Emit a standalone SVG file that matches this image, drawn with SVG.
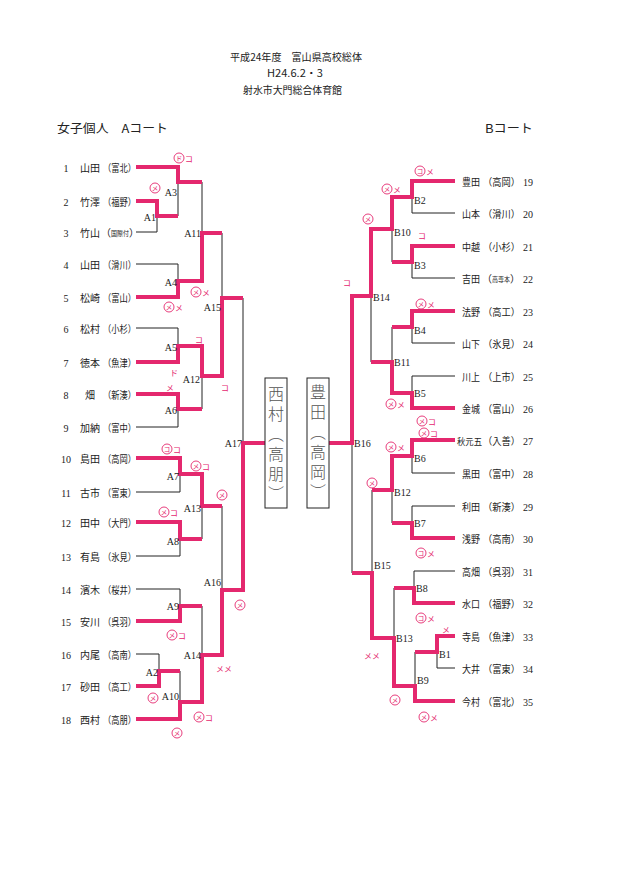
<svg xmlns="http://www.w3.org/2000/svg" width="621" height="875" viewBox="0 0 621 875">
<style>
.ln{stroke:#222;stroke-width:1;fill:none}
.pk{stroke:#e4286e;stroke-width:4;fill:none;stroke-linejoin:miter;stroke-linecap:butt}
.nm{font-family:"Noto Sans CJK JP","Noto Sans CJK SC",sans-serif;font-size:10px;fill:#222}
.nm3{font-family:"Noto Sans CJK JP","Noto Sans CJK SC",sans-serif;font-size:8.6px;fill:#222}
.sm{font-family:"Noto Sans CJK JP","Noto Sans CJK SC",sans-serif;font-size:6.5px;fill:#222}
.num{font-family:"Liberation Serif",serif;font-size:10px;fill:#222}
.lb{font-family:"Liberation Serif",serif;font-size:10px;fill:#222}
.hd{font-family:"Noto Sans CJK JP","Noto Sans CJK SC",sans-serif;font-size:10px;fill:#222}
.tt{font-family:"Noto Sans CJK JP","Noto Sans CJK SC",sans-serif;font-size:12px;fill:#222}
.an{font-family:"Noto Sans CJK JP","Noto Sans CJK SC",sans-serif;font-size:8px;fill:#e4286e}
.ai{font-family:"Noto Sans CJK JP","Noto Sans CJK SC",sans-serif;font-size:6.5px;fill:#e4286e;text-anchor:middle}
.ac{fill:none;stroke:#e4286e;stroke-width:0.9}
.hw{font-family:"Noto Sans CJK JP","Noto Sans CJK SC",sans-serif;font-size:16px;fill:#555;font-weight:300;writing-mode:vertical-rl;letter-spacing:4px}
.bx{fill:#fff;stroke:#222;stroke-width:1}
</style>
<rect width="621" height="875" fill="#fff"/>

<g id="header">
<text class="hd" x="230" y="61" textLength="132" lengthAdjust="spacingAndGlyphs">平成24年度　富山県高校総体</text>
<text class="hd" x="267" y="77" textLength="56" lengthAdjust="spacingAndGlyphs">H24.6.2・3</text>
<text class="hd" x="243" y="94" textLength="99" lengthAdjust="spacingAndGlyphs">射水市大門総合体育館</text>
<text class="tt" x="57" y="133" textLength="111" lengthAdjust="spacingAndGlyphs">女子個人　Aコート</text>
<text class="tt" x="485" y="133" textLength="48" lengthAdjust="spacingAndGlyphs">Bコート</text>
</g>

<g id="connectors">
<path class="ln" d="M136,167H178M136,201H157M136,232H157M136,264H178M136,297H178M136,328H178M136,362H178M136,394H178M136,427H178M136,458H180M136,492H180M136,522H180M136,556H180M136,589H180M136,621H180M136,654H159M136,686H159M136,719H180"/>
<path class="ln" d="M157,201V232M157,216H178 M178,167V216M178,182H202 M178,264V297M178,281H202 M202,182V281M202,233H222 M178,328V362M178,346H202 M178,394V427M178,409H202 M202,346V409M202,376H222 M222,233V376M222,298H243 M180,458V492M180,474H202 M180,522V556M180,539H202 M202,474V539M202,506H222 M180,589V621M180,606H202 M159,654V686M159,671H180 M180,671V719M180,702H202 M202,606V702M202,655H222 M222,506V655M222,590H243 M243,298V590M243,443H265"/>
<path class="ln" d="M455,181H412M455,213H412M455,246H412M455,278H412M455,311H412M455,343H412M455,376H412M455,408H412M455,440H412M455,473H412M455,506H412M455,538H412M455,571H414M455,603H414M455,636H437M455,668H437M455,701H415"/>
<path class="ln" d="M412,181V213M412,197H392 M412,246V278M412,262H392 M392,197V262M392,229H371 M412,311V343M412,327H392 M412,376V408M412,393H392 M392,327V393M392,362H371 M371,229V362M371,296H352 M412,440V473M412,456H392 M412,506V538M412,523H392 M392,456V523M392,490H372 M414,571V603M414,588H394 M437,636V668M437,652H415 M415,652V701M415,686H394 M394,588V686M394,638H372 M372,490V638M372,573H352 M352,296V573M352,443H329"/>
</g>

<g id="winner-paths">
<path class="pk" d="M136,167H178V182H202"/>
<path class="pk" d="M136,201H157V216H178"/>
<path class="pk" d="M136,297H178V281H202V233H222"/>
<path class="pk" d="M136,362H178V346H202V376H222V298H243"/>
<path class="pk" d="M136,394H178V409H202"/>
<path class="pk" d="M136,458H180V474H202V506H222"/>
<path class="pk" d="M136,522H180V539H202"/>
<path class="pk" d="M136,621H180V606H202"/>
<path class="pk" d="M136,686H159V671H180"/>
<path class="pk" d="M136,719H180V702H202V655H222V590H243V443H265"/>
<path class="pk" d="M455,181H412V197H392V229H371V296H352V443H329"/>
<path class="pk" d="M455,246H412V262H392"/>
<path class="pk" d="M455,311H412V327H392"/>
<path class="pk" d="M455,408H412V393H392V362H371"/>
<path class="pk" d="M455,440H412V456H392V490H372"/>
<path class="pk" d="M455,538H412V523H392"/>
<path class="pk" d="M455,603H414V588H394"/>
<path class="pk" d="M455,636H437V652H415"/>
<path class="pk" d="M455,701H415V686H394V638H372V573H352"/>
</g>

<g id="players-a">
<g id="p1"><text class="num" x="66" y="172" text-anchor="middle">1</text><text class="nm" x="80" y="172" textLength="20" lengthAdjust="spacingAndGlyphs">山田</text><text class="nm" x="103" y="172" textLength="33" lengthAdjust="spacingAndGlyphs">（富北）</text></g>
<g id="p2"><text class="num" x="66" y="206" text-anchor="middle">2</text><text class="nm" x="80" y="206" textLength="20" lengthAdjust="spacingAndGlyphs">竹澤</text><text class="nm" x="103" y="206" textLength="33" lengthAdjust="spacingAndGlyphs">（福野）</text></g>
<g id="p3"><text class="num" x="66" y="237" text-anchor="middle">3</text><text class="nm" x="80" y="237" textLength="20" lengthAdjust="spacingAndGlyphs">竹山</text><text class="nm" x="101" y="237">（</text><text class="sm" x="111" y="236" textLength="18" lengthAdjust="spacingAndGlyphs">国際付</text><text class="nm" x="129" y="237">）</text></g>
<g id="p4"><text class="num" x="66" y="269" text-anchor="middle">4</text><text class="nm" x="80" y="269" textLength="20" lengthAdjust="spacingAndGlyphs">山田</text><text class="nm" x="103" y="269" textLength="33" lengthAdjust="spacingAndGlyphs">（滑川）</text></g>
<g id="p5"><text class="num" x="66" y="302" text-anchor="middle">5</text><text class="nm" x="80" y="302" textLength="20" lengthAdjust="spacingAndGlyphs">松崎</text><text class="nm" x="103" y="302" textLength="33" lengthAdjust="spacingAndGlyphs">（富山）</text></g>
<g id="p6"><text class="num" x="66" y="333" text-anchor="middle">6</text><text class="nm" x="80" y="333" textLength="20" lengthAdjust="spacingAndGlyphs">松村</text><text class="nm" x="103" y="333" textLength="33" lengthAdjust="spacingAndGlyphs">（小杉）</text></g>
<g id="p7"><text class="num" x="66" y="367" text-anchor="middle">7</text><text class="nm" x="80" y="367" textLength="20" lengthAdjust="spacingAndGlyphs">徳本</text><text class="nm" x="103" y="367" textLength="33" lengthAdjust="spacingAndGlyphs">（魚津）</text></g>
<g id="p8"><text class="num" x="66" y="399" text-anchor="middle">8</text><text class="nm" x="90" y="399" text-anchor="middle">畑</text><text class="nm" x="103" y="399" textLength="33" lengthAdjust="spacingAndGlyphs">（新湊）</text></g>
<g id="p9"><text class="num" x="66" y="432" text-anchor="middle">9</text><text class="nm" x="80" y="432" textLength="20" lengthAdjust="spacingAndGlyphs">加納</text><text class="nm" x="103" y="432" textLength="33" lengthAdjust="spacingAndGlyphs">（富中）</text></g>
<g id="p10"><text class="num" x="66" y="463" text-anchor="middle">10</text><text class="nm" x="80" y="463" textLength="20" lengthAdjust="spacingAndGlyphs">島田</text><text class="nm" x="103" y="463" textLength="33" lengthAdjust="spacingAndGlyphs">（高岡）</text></g>
<g id="p11"><text class="num" x="66" y="497" text-anchor="middle">11</text><text class="nm" x="80" y="497" textLength="20" lengthAdjust="spacingAndGlyphs">古市</text><text class="nm" x="103" y="497" textLength="33" lengthAdjust="spacingAndGlyphs">（富東）</text></g>
<g id="p12"><text class="num" x="66" y="527" text-anchor="middle">12</text><text class="nm" x="80" y="527" textLength="20" lengthAdjust="spacingAndGlyphs">田中</text><text class="nm" x="103" y="527" textLength="33" lengthAdjust="spacingAndGlyphs">（大門）</text></g>
<g id="p13"><text class="num" x="66" y="561" text-anchor="middle">13</text><text class="nm" x="80" y="561" textLength="20" lengthAdjust="spacingAndGlyphs">有島</text><text class="nm" x="103" y="561" textLength="33" lengthAdjust="spacingAndGlyphs">（氷見）</text></g>
<g id="p14"><text class="num" x="66" y="594" text-anchor="middle">14</text><text class="nm" x="80" y="594" textLength="20" lengthAdjust="spacingAndGlyphs">濱木</text><text class="nm" x="103" y="594" textLength="33" lengthAdjust="spacingAndGlyphs">（桜井）</text></g>
<g id="p15"><text class="num" x="66" y="626" text-anchor="middle">15</text><text class="nm" x="80" y="626" textLength="20" lengthAdjust="spacingAndGlyphs">安川</text><text class="nm" x="103" y="626" textLength="33" lengthAdjust="spacingAndGlyphs">（呉羽）</text></g>
<g id="p16"><text class="num" x="66" y="659" text-anchor="middle">16</text><text class="nm" x="80" y="659" textLength="20" lengthAdjust="spacingAndGlyphs">内尾</text><text class="nm" x="103" y="659" textLength="33" lengthAdjust="spacingAndGlyphs">（高南）</text></g>
<g id="p17"><text class="num" x="66" y="691" text-anchor="middle">17</text><text class="nm" x="80" y="691" textLength="20" lengthAdjust="spacingAndGlyphs">砂田</text><text class="nm" x="103" y="691" textLength="33" lengthAdjust="spacingAndGlyphs">（高工）</text></g>
<g id="p18"><text class="num" x="66" y="724" text-anchor="middle">18</text><text class="nm" x="80" y="724" textLength="20" lengthAdjust="spacingAndGlyphs">西村</text><text class="nm" x="103" y="724" textLength="33" lengthAdjust="spacingAndGlyphs">（高朋）</text></g>
</g>

<g id="players-b">
<g id="p19"><text class="nm" x="462" y="186" textLength="18" lengthAdjust="spacingAndGlyphs">豊田</text><text class="nm" x="483" y="186" textLength="37" lengthAdjust="spacingAndGlyphs">（高岡）</text><text class="num" x="523" y="186">19</text></g>
<g id="p20"><text class="nm" x="462" y="218" textLength="18" lengthAdjust="spacingAndGlyphs">山本</text><text class="nm" x="483" y="218" textLength="37" lengthAdjust="spacingAndGlyphs">（滑川）</text><text class="num" x="523" y="218">20</text></g>
<g id="p21"><text class="nm" x="462" y="251" textLength="18" lengthAdjust="spacingAndGlyphs">中越</text><text class="nm" x="483" y="251" textLength="37" lengthAdjust="spacingAndGlyphs">（小杉）</text><text class="num" x="523" y="251">21</text></g>
<g id="p22"><text class="nm" x="462" y="283" textLength="18" lengthAdjust="spacingAndGlyphs">吉田</text><text class="nm" x="482" y="283">（</text><text class="sm" x="492" y="282" textLength="18" lengthAdjust="spacingAndGlyphs">高専本</text><text class="nm" x="510" y="283">）</text><text class="num" x="523" y="283">22</text></g>
<g id="p23"><text class="nm" x="462" y="316" textLength="18" lengthAdjust="spacingAndGlyphs">法野</text><text class="nm" x="483" y="316" textLength="37" lengthAdjust="spacingAndGlyphs">（高工）</text><text class="num" x="523" y="316">23</text></g>
<g id="p24"><text class="nm" x="462" y="348" textLength="18" lengthAdjust="spacingAndGlyphs">山下</text><text class="nm" x="483" y="348" textLength="37" lengthAdjust="spacingAndGlyphs">（氷見）</text><text class="num" x="523" y="348">24</text></g>
<g id="p25"><text class="nm" x="462" y="381" textLength="18" lengthAdjust="spacingAndGlyphs">川上</text><text class="nm" x="483" y="381" textLength="37" lengthAdjust="spacingAndGlyphs">（上市）</text><text class="num" x="523" y="381">25</text></g>
<g id="p26"><text class="nm" x="462" y="413" textLength="18" lengthAdjust="spacingAndGlyphs">金城</text><text class="nm" x="483" y="413" textLength="37" lengthAdjust="spacingAndGlyphs">（富山）</text><text class="num" x="523" y="413">26</text></g>
<g id="p27"><text class="nm3" x="457" y="445" textLength="25" lengthAdjust="spacingAndGlyphs">秋元五</text><text class="nm" x="483" y="445" textLength="37" lengthAdjust="spacingAndGlyphs">（入善）</text><text class="num" x="523" y="445">27</text></g>
<g id="p28"><text class="nm" x="462" y="478" textLength="18" lengthAdjust="spacingAndGlyphs">黒田</text><text class="nm" x="483" y="478" textLength="37" lengthAdjust="spacingAndGlyphs">（富中）</text><text class="num" x="523" y="478">28</text></g>
<g id="p29"><text class="nm" x="462" y="511" textLength="18" lengthAdjust="spacingAndGlyphs">利田</text><text class="nm" x="483" y="511" textLength="37" lengthAdjust="spacingAndGlyphs">（新湊）</text><text class="num" x="523" y="511">29</text></g>
<g id="p30"><text class="nm" x="462" y="543" textLength="18" lengthAdjust="spacingAndGlyphs">浅野</text><text class="nm" x="483" y="543" textLength="37" lengthAdjust="spacingAndGlyphs">（高南）</text><text class="num" x="523" y="543">30</text></g>
<g id="p31"><text class="nm" x="462" y="576" textLength="18" lengthAdjust="spacingAndGlyphs">高畑</text><text class="nm" x="483" y="576" textLength="37" lengthAdjust="spacingAndGlyphs">（呉羽）</text><text class="num" x="523" y="576">31</text></g>
<g id="p32"><text class="nm" x="462" y="608" textLength="18" lengthAdjust="spacingAndGlyphs">水口</text><text class="nm" x="483" y="608" textLength="37" lengthAdjust="spacingAndGlyphs">（福野）</text><text class="num" x="523" y="608">32</text></g>
<g id="p33"><text class="nm" x="462" y="641" textLength="18" lengthAdjust="spacingAndGlyphs">寺島</text><text class="nm" x="483" y="641" textLength="37" lengthAdjust="spacingAndGlyphs">（魚津）</text><text class="num" x="523" y="641">33</text></g>
<g id="p34"><text class="nm" x="462" y="673" textLength="18" lengthAdjust="spacingAndGlyphs">大井</text><text class="nm" x="483" y="673" textLength="37" lengthAdjust="spacingAndGlyphs">（富東）</text><text class="num" x="523" y="673">34</text></g>
<g id="p35"><text class="nm" x="462" y="706" textLength="18" lengthAdjust="spacingAndGlyphs">今村</text><text class="nm" x="483" y="706" textLength="37" lengthAdjust="spacingAndGlyphs">（富北）</text><text class="num" x="523" y="706">35</text></g>
</g>

<g id="matches-a" class="lb" text-anchor="end">
<g id="A1"><text x="156" y="221">A1</text></g>
<g id="A2"><text x="158" y="676">A2</text></g>
<g id="A3"><text x="177" y="196">A3</text></g>
<g id="A4"><text x="177" y="286">A4</text></g>
<g id="A5"><text x="177" y="351">A5</text></g>
<g id="A6"><text x="177" y="414">A6</text></g>
<g id="A7"><text x="179" y="480">A7</text></g>
<g id="A8"><text x="179" y="545">A8</text></g>
<g id="A9"><text x="179" y="610">A9</text></g>
<g id="A10"><text x="179" y="700">A10</text></g>
<g id="A11"><text x="201" y="237">A11</text></g>
<g id="A12"><text x="200" y="383">A12</text></g>
<g id="A13"><text x="201" y="512">A13</text></g>
<g id="A14"><text x="201" y="659">A14</text></g>
<g id="A15"><text x="221" y="311">A15</text></g>
<g id="A16"><text x="221" y="586">A16</text></g>
<g id="A17"><text x="242" y="447">A17</text></g>
</g>

<g id="matches-b" class="lb">
<g id="B1"><text x="439" y="658">B1</text></g>
<g id="B2"><text x="414" y="204">B2</text></g>
<g id="B3"><text x="414" y="269">B3</text></g>
<g id="B4"><text x="414" y="334">B4</text></g>
<g id="B5"><text x="414" y="397">B5</text></g>
<g id="B6"><text x="414" y="462">B6</text></g>
<g id="B7"><text x="414" y="527">B7</text></g>
<g id="B8"><text x="416" y="592">B8</text></g>
<g id="B9"><text x="417" y="684">B9</text></g>
<g id="B10"><text x="394" y="236">B10</text></g>
<g id="B11"><text x="394" y="366">B11</text></g>
<g id="B12"><text x="394" y="496">B12</text></g>
<g id="B13"><text x="396" y="642">B13</text></g>
<g id="B14"><text x="373" y="301">B14</text></g>
<g id="B15"><text x="374" y="569">B15</text></g>
<g id="B16"><text x="354" y="447">B16</text></g>
</g>

<g id="finalist-a">
<rect class="bx" x="265" y="378" width="22" height="130"/>
<text class="hw" x="276" y="386">西村（高朋）</text>
</g>
<g id="finalist-b">
<rect class="bx" x="307" y="378" width="22" height="130"/>
<text class="hw" x="318" y="384">豊田（高岡）</text>
</g>

<g id="annotations">
<circle class="ac" cx="179" cy="158" r="5"/><text class="ai" x="179" y="160.5">ド</text><text class="an" x="185" y="162">コ</text>
<circle class="ac" cx="155" cy="188" r="5"/><text class="ai" x="155" y="190.5">メ</text>
<circle class="ac" cx="196" cy="292" r="5"/><text class="ai" x="196" y="294.5">メ</text><text class="an" x="202" y="296">メ</text>
<circle class="ac" cx="169" cy="307" r="5"/><text class="ai" x="169" y="309.5">メ</text><text class="an" x="175" y="311">メ</text>
<text class="an" x="195" y="343">コ</text>
<text class="an" x="170" y="376">ド</text>
<text class="an" x="166" y="391">メ</text>
<text class="an" x="221" y="391">コ</text>
<circle class="ac" cx="167" cy="449" r="5"/><text class="ai" x="167" y="451.5">コ</text><text class="an" x="173" y="453">コ</text>
<circle class="ac" cx="196" cy="466" r="5"/><text class="ai" x="196" y="468.5">メ</text><text class="an" x="202" y="470">コ</text>
<circle class="ac" cx="222" cy="495" r="5"/><text class="ai" x="222" y="497.5">メ</text>
<circle class="ac" cx="164" cy="512" r="5"/><text class="ai" x="164" y="514.5">メ</text><text class="an" x="170" y="516">コ</text>
<circle class="ac" cx="240" cy="605" r="5"/><text class="ai" x="240" y="607.5">メ</text>
<circle class="ac" cx="172" cy="635" r="5"/><text class="ai" x="172" y="637.5">メ</text><text class="an" x="178" y="639">コ</text>
<text class="an" x="216" y="672">メメ</text>
<circle class="ac" cx="153" cy="698" r="5"/><text class="ai" x="153" y="700.5">メ</text>
<circle class="ac" cx="199" cy="717" r="5"/><text class="ai" x="199" y="719.5">メ</text><text class="an" x="205" y="721">コ</text>
<circle class="ac" cx="177" cy="733" r="5"/><text class="ai" x="177" y="735.5">メ</text>
<circle class="ac" cx="420" cy="171" r="5"/><text class="ai" x="420" y="173.5">コ</text><text class="an" x="426" y="175">メ</text>
<circle class="ac" cx="387" cy="189" r="5"/><text class="ai" x="387" y="191.5">メ</text><text class="an" x="393" y="193">メ</text>
<circle class="ac" cx="368" cy="219" r="5"/><text class="ai" x="368" y="221.5">メ</text>
<text class="an" x="418" y="239">コ</text>
<text class="an" x="343" y="286">コ</text>
<circle class="ac" cx="421" cy="304" r="5"/><text class="ai" x="421" y="306.5">メ</text><text class="an" x="427" y="308">メ</text>
<circle class="ac" cx="391" cy="404" r="5"/><text class="ai" x="391" y="406.5">メ</text><text class="an" x="397" y="408">メ</text>
<circle class="ac" cx="422" cy="421" r="5"/><text class="ai" x="422" y="423.5">メ</text><text class="an" x="428" y="425">コ</text>
<circle class="ac" cx="424" cy="433" r="5"/><text class="ai" x="424" y="435.5">メ</text><text class="an" x="430" y="437">コ</text>
<circle class="ac" cx="391" cy="447" r="5"/><text class="ai" x="391" y="449.5">メ</text><text class="an" x="397" y="451">メ</text>
<circle class="ac" cx="372" cy="483" r="5"/><text class="ai" x="372" y="485.5">メ</text>
<circle class="ac" cx="421" cy="553" r="5"/><text class="ai" x="421" y="555.5">コ</text><text class="an" x="427" y="557">メ</text>
<circle class="ac" cx="421" cy="618" r="5"/><text class="ai" x="421" y="620.5">コ</text><text class="an" x="427" y="622">メ</text>
<text class="an" x="442" y="633">メ</text>
<text class="an" x="364" y="659">メメ</text>
<circle class="ac" cx="395" cy="700" r="5"/><text class="ai" x="395" y="702.5">メ</text>
<circle class="ac" cx="424" cy="717" r="5"/><text class="ai" x="424" y="719.5">メ</text><text class="an" x="430" y="721">メ</text>
</g>
</svg>
